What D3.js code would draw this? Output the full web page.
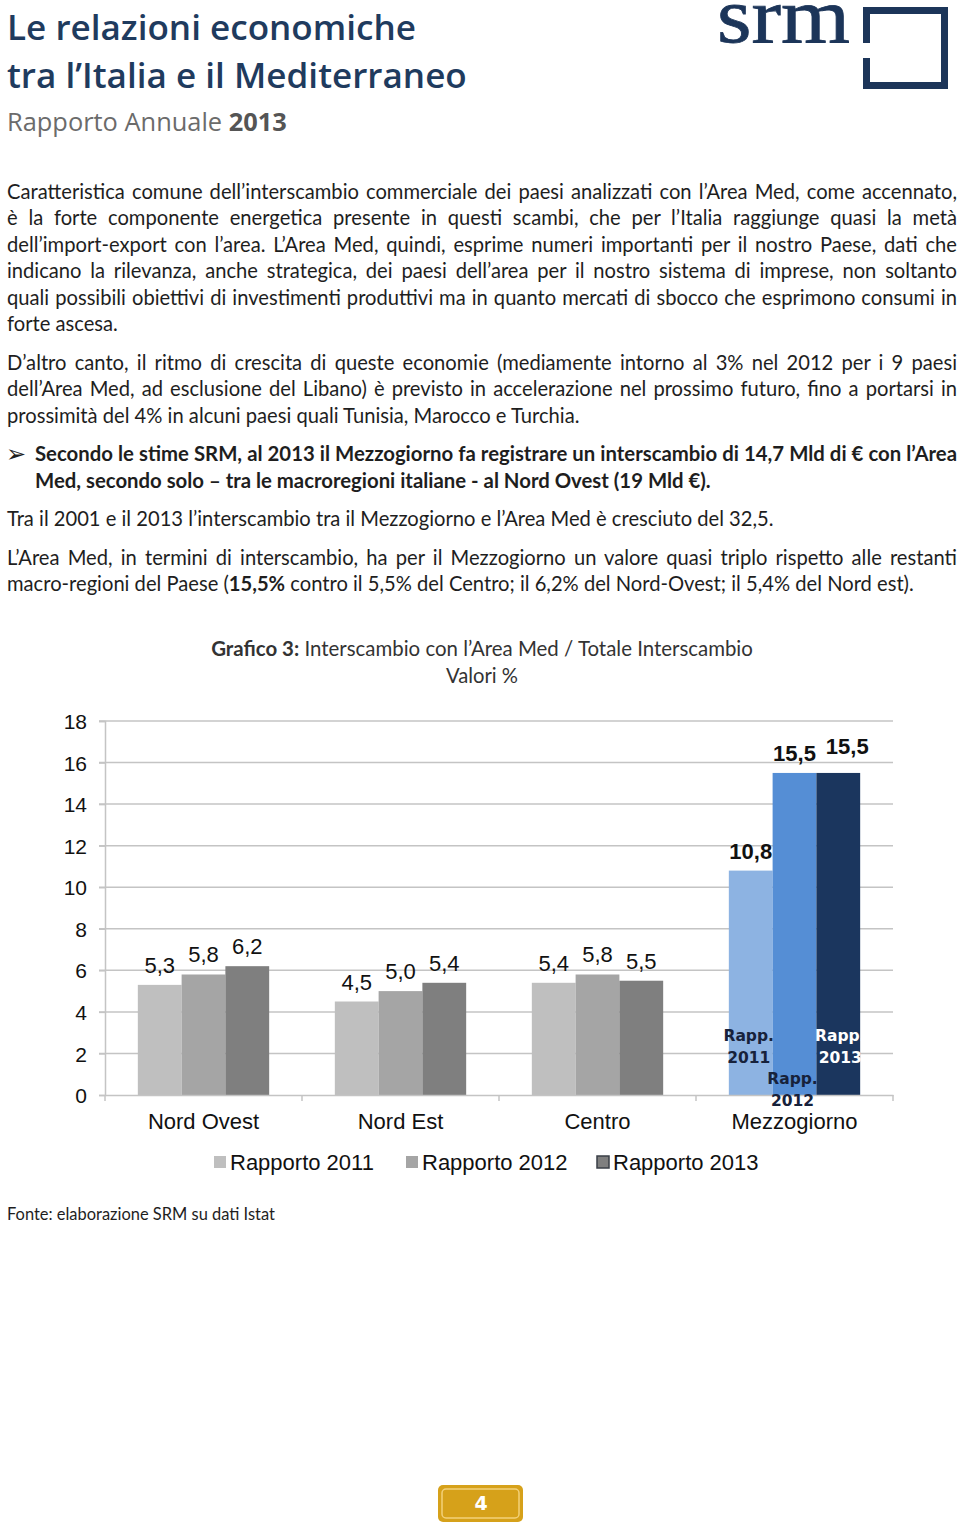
<!DOCTYPE html>
<html><head><meta charset="utf-8">
<script src="https://cdn.jsdelivr.net/npm/d3@7"></script>
<style>body{margin:0;background:#fff}svg{display:block}</style>
</head><body>
<script>
// ---------- DATA ----------
const categories = ["Nord Ovest", "Nord Est", "Centro", "Mezzogiorno"];
const series = ["Rapporto 2011", "Rapporto 2012", "Rapporto 2013"];
const v2011 = [5.3, 4.5, 5.4, 10.8];
const v2012 = [5.8, 5.0, 5.8, 15.5];
const v2013 = [6.2, 5.4, 5.5, 15.5];
const valueLabels2011 = ["5,3", "4,5", "5,4", "10,8"];
const valueLabels2012 = ["5,8", "5,0", "5,8", "15,5"];
const valueLabels2013 = ["6,2", "5,4", "5,5", "15,5"];
const yTicks = [0, 2, 4, 6, 8, 10, 12, 14, 16, 18];
const highlightCategory = "Mezzogiorno";
const innerLabels = [["Rapp.", "2011"], ["Rapp.", "2012"], ["Rapp.", "2013"]];
const chartTitleBold = "Grafico 3:";
const chartTitleRest = " Interscambio con l’Area Med / Totale Interscambio";
const chartSubtitle = "Valori %";
const sourceNote = "Fonte: elaborazione SRM su dati Istat";

const bodyLines = [
  {t:"Caratteristica comune dell’interscambio commerciale dei paesi analizzati con l’Area Med, come accennato,", y:199, j:true},
  {t:"è la forte componente energetica presente in questi scambi, che per l’Italia raggiunge quasi la metà", y:225, j:true},
  {t:"dell’import-export con l’area. L’Area Med, quindi, esprime numeri importanti per il nostro Paese, dati che", y:252, j:true},
  {t:"indicano la rilevanza, anche strategica, dei paesi dell’area per il nostro sistema di imprese, non soltanto", y:278, j:true},
  {t:"quali possibili obiettivi di investimenti produttivi ma in quanto mercati di sbocco che esprimono consumi in", y:305, j:true},
  {t:"forte ascesa.", y:331, j:false},
  {t:"D’altro canto, il ritmo di crescita di queste economie (mediamente intorno al 3% nel 2012 per i 9 paesi", y:370, j:true},
  {t:"dell’Area Med, ad esclusione del Libano) è previsto in accelerazione nel prossimo futuro, fino a portarsi in", y:396, j:true},
  {t:"prossimità del 4% in alcuni paesi quali Tunisia, Marocco e Turchia.", y:423, j:false},
  {t:"Tra il 2001 e il 2013 l’interscambio tra il Mezzogiorno e l’Area Med è cresciuto del 32,5.", y:526, j:false, ref:767},
  {t:"L’Area Med, in termini di interscambio, ha per il Mezzogiorno un valore quasi triplo rispetto alle restanti", y:565, j:true}
];
const bulletLines = [
  {t:"Secondo le stime SRM, al 2013 il Mezzogiorno fa registrare un interscambio di 14,7 Mld di € con l’Area", y:461, j:true},
  {t:"Med, secondo solo – tra le macroregioni italiane - al Nord Ovest (19 Mld €).", y:488, j:false, ref:676}
];
const lastLineParts = [["macro-regioni del Paese (", false], ["15,5%", true], [" contro il 5,5% del Centro; il 6,2% del Nord-Ovest; il 5,4% del Nord est).", false]];

// ---------- SETUP ----------
const W = 960, H = 1526;
const svg = d3.select("body").append("svg").attr("width", W).attr("height", H);
svg.append("rect").attr("width", W).attr("height", H).attr("fill", "#fff");

function fitSize(t, w) {
  const n = t.node().getComputedTextLength();
  const fs = parseFloat(t.attr("font-size"));
  t.attr("font-size", fs * w / n);
  return fs * w / n;
}

// ---------- HEADER ----------
const navy = "#1f3b5e";
const h1 = svg.append("text").attr("x", 7).attr("y", 40).attr("font-family", "Open Sans").attr("font-weight", 600)
  .attr("font-size", 36).attr("fill", navy).text("Le relazioni economiche");
fitSize(h1, 409);
const h2 = svg.append("text").attr("x", 7).attr("y", 88).attr("font-family", "Open Sans").attr("font-weight", 600)
  .attr("font-size", 36).attr("fill", navy).text("tra l’Italia e il Mediterraneo");
fitSize(h2, 460);
const h3 = svg.append("text").attr("x", 7).attr("y", 131).attr("font-family", "Open Sans")
  .attr("font-size", 26).attr("fill", "#6b6b6b");
h3.append("tspan").text("Rapporto Annuale ");
h3.append("tspan").attr("font-weight", 700).attr("fill", "#555").text("2013");
fitSize(h3, 280);

// logo: horizontally stretched serif wordmark
const logoG = svg.append("g");
const logoText = logoG.append("text").attr("x", 0).attr("y", 0).attr("font-family", "Liberation Serif")
  .attr("font-size", 78).attr("fill", "#1c3559").attr("stroke", "#1c3559").attr("stroke-width", 0.8)
  .text("srm");
const lw = logoText.node().getComputedTextLength();
logoG.attr("transform", `translate(717,42) scale(${133 / lw},1)`);
const logoPath = "M863,7 H948 V89 H863 V58 H870 V82 H941 V14 H870 V43 H863 Z";
svg.append("path").attr("d", logoPath).attr("fill", "#1c3559");

// ---------- BODY TEXT ----------
const bodyFont = "Lato";
const textColor = "#1e1e1e";
const refN = bodyLines.find(d => d.ref);
const tmp = svg.append("text").attr("font-family", bodyFont).attr("font-size", 19).text(refN.t);
const normalSize = fitSize(tmp, refN.ref); tmp.remove();
const refB = bulletLines.find(d => d.ref);
const tmpB = svg.append("text").attr("font-family", bodyFont).attr("font-weight", 700).attr("font-size", 19).text(refB.t);
const boldSize = fitSize(tmpB, refB.ref); tmpB.remove();

function drawLine(d, x, right, size, bold) {
  const t = svg.append("text").attr("x", x).attr("y", d.y).attr("font-family", bodyFont)
    .attr("font-size", size).attr("fill", textColor).attr("font-weight", bold ? 700 : 400)
    .attr("xml:space", "preserve").text(d.t);
  if (d.j) {
    const n = t.node().getComputedTextLength();
    const spaces = (d.t.match(/ /g) || []).length;
    t.style("word-spacing", ((right - x - n) / spaces) + "px");
  }
}
bodyLines.forEach(d => drawLine(d, 7, 957, normalSize, false));
bulletLines.forEach(d => drawLine(d, 35, 957, boldSize, true));
svg.append("text").attr("x", 6).attr("y", 462).attr("font-family", "DejaVu Sans").attr("font-size", 24)
  .attr("fill", textColor).text("➢");
const last = svg.append("text").attr("x", 7).attr("y", 591).attr("font-family", bodyFont)
  .attr("font-size", normalSize).attr("fill", textColor).attr("xml:space", "preserve");
lastLineParts.forEach(p => last.append("tspan").attr("font-weight", p[1] ? 700 : 400).text(p[0]));

// ---------- CHART TITLE ----------
const ct = svg.append("text").attr("x", 482).attr("y", 656).attr("text-anchor", "middle")
  .attr("font-family", bodyFont).attr("font-size", 20).attr("fill", "#333");
ct.append("tspan").attr("font-weight", 700).text(chartTitleBold);
ct.append("tspan").text(chartTitleRest);
fitSize(ct, 542);
const cs = svg.append("text").attr("x", 482).attr("y", 683).attr("text-anchor", "middle")
  .attr("font-family", bodyFont).attr("font-size", 20).attr("fill", "#333").text(chartSubtitle);
fitSize(cs, 72);

// ---------- CHART ----------
const plot = {left: 105, right: 893, top: 721, bottom: 1095};
const x = d3.scaleBand().domain(categories).range([plot.left, plot.right]).paddingInner(0).paddingOuter(0);
const xs = d3.scaleBand().domain(series).range([0, x.bandwidth()]).paddingInner(0).paddingOuter(0.75);
const y = d3.scaleLinear().domain([0, 18]).range([plot.bottom, plot.top]);
const grayColors = ["#bfbfbf", "#a5a5a5", "#7f7f7f"];
const blueColors = ["#8db3e2", "#558ed5", "#1b365e"];
const chartFont = "Liberation Sans";
const gridColor = "#c4c4c4";
const fs = 22;

const g = svg.append("g");
g.selectAll("line.grid").data(yTicks.filter(t => t > 0)).join("line")
  .attr("x1", plot.left - 6).attr("x2", plot.right).attr("y1", d => y(d)).attr("y2", d => y(d))
  .attr("stroke", gridColor).attr("stroke-width", 1.5);

const yAxis = d3.axisLeft(y).tickValues(yTicks).tickSize(6).tickPadding(12).tickFormat(d3.format("d"));
const ya = g.append("g").attr("transform", `translate(${plot.left},0)`).call(yAxis);
ya.select(".domain").attr("stroke", gridColor).attr("stroke-width", 1.5);
ya.selectAll(".tick line").attr("stroke", gridColor).attr("stroke-width", 1.5);
ya.selectAll(".tick text").attr("font-family", chartFont).attr("font-size", 21).attr("fill", "#111").attr("dy", "0.36em");

const data = categories.map((c, i) => ({
  cat: c,
  vals: [v2011[i], v2012[i], v2013[i]],
  labels: [valueLabels2011[i], valueLabels2012[i], valueLabels2013[i]]
}));
const barsData = [];
data.forEach(d => d.vals.forEach((v, k) => barsData.push({cat: d.cat, s: series[k], k, v, label: d.labels[k]})));

g.selectAll("rect.bar").data(barsData).join("rect")
  .attr("x", d => x(d.cat) + xs(d.s)).attr("width", xs.bandwidth())
  .attr("y", d => y(d.v)).attr("height", d => y(0) - y(d.v))
  .attr("fill", d => d.cat === highlightCategory ? blueColors[d.k] : grayColors[d.k]);

const xAxis = d3.axisBottom(x).tickSize(0).tickPadding(18);
const xa = g.append("g").attr("transform", `translate(0,${plot.bottom})`).call(xAxis);
xa.select(".domain").attr("stroke", gridColor).attr("stroke-width", 1.5);
xa.selectAll(".tick text").attr("font-family", chartFont).attr("font-size", fs).attr("fill", "#111");
const bounds = categories.map(c => x(c)).concat([plot.right]);
g.selectAll("line.bt").data(bounds).join("line")
  .attr("x1", d => d).attr("x2", d => d).attr("y1", plot.bottom).attr("y2", plot.bottom + 6)
  .attr("stroke", gridColor).attr("stroke-width", 1.5);

g.selectAll("text.vl").data(barsData).join("text")
  .attr("x", d => x(d.cat) + xs(d.s) + xs.bandwidth() / 2 + (d.cat === highlightCategory && d.k === 2 ? 9 : 0))
  .attr("y", d => y(d.v) - (d.cat === highlightCategory && d.k === 2 ? 19 : 12))
  .attr("text-anchor", "middle").attr("font-family", chartFont).attr("font-size", fs)
  .attr("font-weight", d => d.cat === highlightCategory ? 700 : 400).attr("fill", "#111")
  .text(d => d.label);

const innerRowOffset = [0, 1, 0];
const innerData = series.map((s, k) => ({s, k, lines: innerLabels[k]}));
innerData.forEach(d => {
  const cx = x(highlightCategory) + xs(d.s) + xs.bandwidth() / 2;
  d.lines.forEach((ln, r) => {
    g.append("text").attr("x", cx + (d.k === 2 ? 2 : -2))
      .attr("y", plot.bottom - 54 + (innerRowOffset[d.k] * 2 + r) * 21.5)
      .attr("text-anchor", "middle").attr("font-family", "DejaVu Sans").attr("font-weight", 700)
      .attr("font-size", 15.5).attr("fill", d.k === 2 ? "#ffffff" : "#17223b").text(ln);
  });
});

const legendX = [214, 406, 597];
const legend = g.selectAll("g.lg").data(series).join("g")
  .attr("transform", (d, i) => `translate(${legendX[i]},1156)`);
legend.append("rect").attr("width", 12).attr("height", 12)
  .attr("fill", (d, i) => grayColors[i]).attr("stroke", (d, i) => i === 2 ? "#3a3f47" : "none").attr("stroke-width", 1.5);
legend.append("text").attr("x", 16).attr("y", 14).attr("font-family", chartFont).attr("font-size", fs)
  .attr("fill", "#111").text(d => d);

const src = svg.append("text").attr("x", 7).attr("y", 1220).attr("font-family", bodyFont)
  .attr("font-size", 16).attr("fill", "#1e1e1e").text(sourceNote);
fitSize(src, 268);

const badge = svg.append("g");
badge.append("rect").attr("x", 438).attr("y", 1485).attr("width", 85).attr("height", 37).attr("rx", 5)
  .attr("fill", "#d6a11a");
badge.append("rect").attr("x", 442).attr("y", 1489).attr("width", 77).attr("height", 29).attr("rx", 4)
  .attr("fill", "none").attr("stroke", "#f3d17a").attr("stroke-width", 1.5);
badge.append("text").attr("x", 481).attr("y", 1510).attr("text-anchor", "middle")
  .attr("font-family", "DejaVu Sans").attr("font-weight", 700).attr("font-size", 19).attr("fill", "#fff").text("4");
</script>
</body></html>
